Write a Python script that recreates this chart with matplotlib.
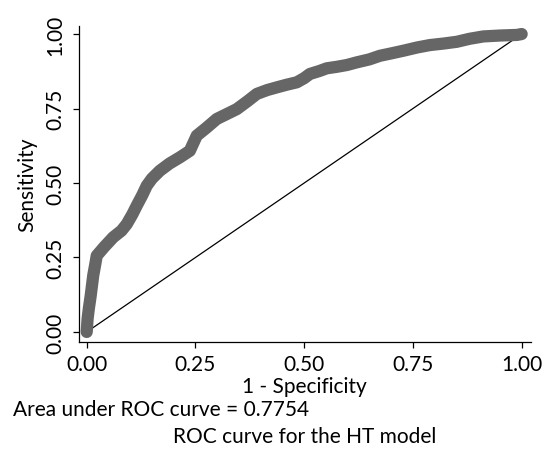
import matplotlib
matplotlib.use('Agg')
import matplotlib.pyplot as plt

plt.rcParams['font.family'] = ['Lato', 'DejaVu Sans']

# ROC curve points (1 - specificity, sensitivity)
fpr = [0.000, 0.002, 0.005, 0.009, 0.015, 0.020, 0.023, 0.040, 0.061, 0.080,
       0.092, 0.105, 0.115, 0.128, 0.138, 0.150, 0.168, 0.190, 0.214, 0.237,
       0.253, 0.275, 0.299, 0.320, 0.345, 0.370, 0.391, 0.415, 0.437, 0.460,
       0.483, 0.500, 0.513, 0.535, 0.552, 0.575, 0.598, 0.621, 0.650, 0.674,
       0.700, 0.728, 0.760, 0.789, 0.820, 0.851, 0.880, 0.912, 0.950, 0.989,
       1.000]
tpr = [0.000, 0.044, 0.080, 0.120, 0.190, 0.230, 0.256, 0.285, 0.318, 0.340,
       0.362, 0.395, 0.424, 0.460, 0.491, 0.515, 0.541, 0.565, 0.586, 0.608,
       0.659, 0.685, 0.715, 0.730, 0.748, 0.775, 0.799, 0.812, 0.821, 0.830,
       0.838, 0.852, 0.866, 0.876, 0.885, 0.890, 0.896, 0.905, 0.915, 0.927,
       0.935, 0.944, 0.955, 0.963, 0.968, 0.974, 0.984, 0.992, 0.995, 0.997,
       1.000]
ticks = [0.0, 0.25, 0.5, 0.75, 1.0]
tick_labels = ['0.00', '0.25', '0.50', '0.75', '1.00']
auc_text = 'Area under ROC curve = 0.7754'
title_text = 'ROC curve for the HT model'

fs = 15

fig = plt.figure(figsize=(5.48, 4.56), dpi=100)
ax = fig.add_axes([0.1442, 0.2485, 0.8242, 0.6923])

# reference diagonal under the curve
ax.plot([0, 1], [0, 1], color='black', linewidth=0.9, zorder=1)
ax.plot(fpr, tpr, color='#666666', linewidth=8.8, solid_capstyle='round',
        solid_joinstyle='round', zorder=2)

ax.set_xlim(-0.0177, 1.0207)
ax.set_ylim(-0.0326, 1.027)
ax.set_xticks(ticks)
ax.set_xticklabels(tick_labels)
ax.set_yticks(ticks)
ax.set_yticklabels(tick_labels, rotation=90, va='center')
ax.tick_params(direction='out', length=4, width=0.9, labelsize=fs, colors='black')
ax.tick_params(axis='x', pad=5)
ax.tick_params(axis='y', pad=6)
for side in ['top', 'right']:
    ax.spines[side].set_visible(False)
for side in ['left', 'bottom']:
    ax.spines[side].set_linewidth(0.9)

ax.set_xlabel('1 - Specificity', fontsize=fs, labelpad=1)
ax.set_ylabel('Sensitivity', fontsize=fs, labelpad=6)

fig.text(13 / 548, 1 - 410 / 456, auc_text, fontsize=fs, ha='left', va='center')
fig.text(305 / 548, 1 - 437 / 456, title_text, fontsize=fs, ha='center', va='center')

fig.savefig('out.png', dpi=100)
